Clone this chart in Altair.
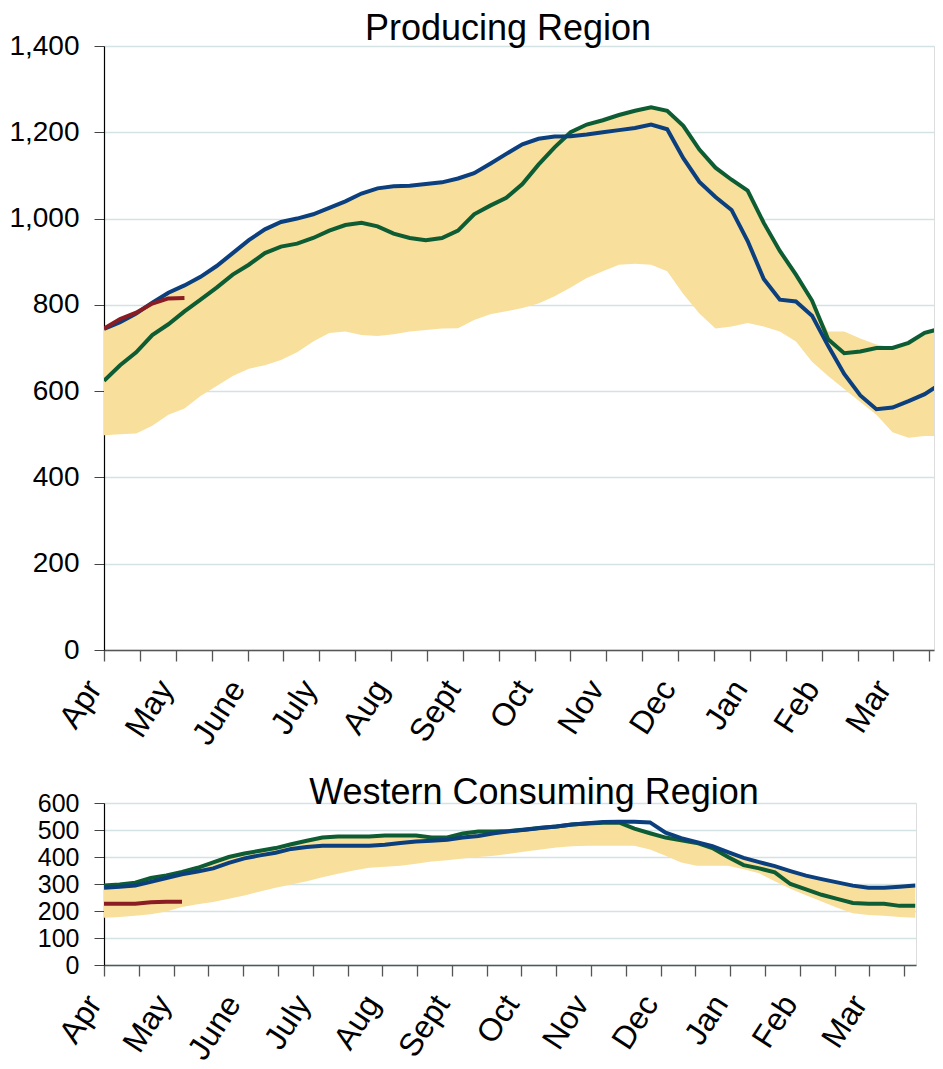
import altair as alt
import pandas as pd

weeks = list(range(53))

# ---------------- Producing Region (weekly readings) ----------------
prod_low = [498, 500, 502, 520, 545, 560, 589, 612, 635, 652, 660, 672, 690, 715, 735, 738, 730, 728, 732, 738,
            742, 745, 746, 765, 778, 785, 793, 803, 820, 840, 862, 878, 893, 895, 893, 878, 825, 780, 745, 750,
            758, 750, 738, 715, 668, 635, 605, 575, 545, 505, 492, 496, 496]
prod_high = [744, 760, 780, 805, 828, 845, 865, 890, 920, 950, 975, 992, 1000, 1010, 1025, 1040, 1058, 1070, 1075, 1076,
             1080, 1084, 1093, 1105, 1127, 1150, 1172, 1185, 1190, 1200, 1218, 1228, 1240, 1250, 1258, 1250, 1215, 1160, 1118, 1090,
             1065, 990, 925, 870, 810, 738, 738, 722, 708, 702, 712, 735, 745]
prod_blue = [744, 760, 780, 805, 828, 845, 865, 890, 920, 950, 975, 992, 1000, 1010, 1025, 1040, 1058, 1070, 1075, 1076,
             1080, 1084, 1093, 1105, 1127, 1150, 1172, 1185, 1190, 1191, 1195, 1200, 1205, 1210, 1218, 1207, 1140, 1085, 1050, 1020,
             948, 860, 812, 808, 775, 705, 640, 590, 558, 562, 577, 593, 617]
prod_green = [624, 660, 690, 730, 755, 785, 812, 840, 870, 893, 920, 935, 942, 955, 972, 985, 990, 982, 965, 955,
              950, 955, 972, 1010, 1030, 1048, 1080, 1125, 1165, 1200, 1218, 1228, 1240, 1250, 1258, 1250, 1215, 1160, 1118, 1090,
              1065, 990, 925, 870, 810, 720, 688, 692, 700, 700, 712, 735, 745]
prod_red = [745, 767, 782, 803, 815, 816]

# ---------------- Western Consuming Region (weekly readings) ----------------
west_low = [175, 178, 182, 188, 198, 215, 225, 233, 245, 257, 272, 286, 298, 310, 325, 338, 350, 360, 364, 368,
            375, 383, 388, 394, 400, 405, 412, 420, 428, 435, 440, 442, 442, 442, 442, 428, 405, 380, 368, 368,
            368, 355, 340, 310, 282, 258, 235, 212, 192, 185, 182, 178, 175]
west_high = [294, 298, 305, 322, 332, 345, 360, 380, 400, 413, 423, 433, 447, 460, 472, 476, 476, 476, 480, 480,
             480, 472, 472, 487, 494, 494, 496, 502, 508, 513, 520, 524, 527, 528, 505, 488, 472, 465, 455, 440,
             418, 397, 381, 366, 348, 331, 318, 306, 294, 286, 286, 290, 294]
west_blue = [286, 290, 294, 308, 322, 336, 346, 358, 378, 395, 406, 416, 430, 437, 442, 442, 442, 442, 445, 452,
             457, 460, 464, 472, 478, 488, 495, 501, 507, 513, 520, 525, 530, 531, 531, 528, 490, 470, 455, 440,
             418, 397, 381, 366, 348, 331, 318, 306, 294, 286, 286, 290, 294]
west_green = [294, 298, 305, 322, 332, 345, 360, 380, 400, 413, 423, 433, 447, 460, 472, 476, 476, 476, 480, 480,
              480, 472, 472, 487, 494, 494, 496, 502, 508, 513, 520, 524, 527, 528, 505, 488, 472, 462, 452, 433,
              400, 370, 358, 343, 300, 280, 260, 245, 230, 227, 227, 219, 219]
west_red = [227, 227, 227, 232, 234, 234]

months = ['Apr', 'May', 'June', 'July', 'Aug', 'Sept', 'Oct', 'Nov', 'Dec', 'Jan', 'Feb', 'Mar']
tick_step = 2.23
tick_vals = [round(i * tick_step, 3) for i in range(24)]
label_expr = ("(round(datum.value / %s) %% 2 == 0) ? %s[round(datum.value / %s) / 2] : ''"
              % (tick_step, str(months), tick_step))

BAND = '#f8df9b'
BLUE = '#0b3f7e'
GREEN = '#0d5c34'
RED = '#8a1c24'
FONT = 'Liberation Sans'


def panel(low, high, blue, green, red, title, ymax, ystep, width, height, xmax,
          title_dx, title_offset, ylab_size, x_extent):
    df = pd.DataFrame({'w': weeks, 'low': low, 'high': high, 'blue': blue, 'green': green})
    rdf = pd.DataFrame({'w': weeks[:len(red)], 'red': red})
    xs = alt.Scale(domain=[0, xmax], nice=False, zero=False)
    ys = alt.Scale(domain=[0, ymax], nice=False)
    x_axis = alt.Axis(values=tick_vals, labelExpr=label_expr, labelAngle=-57, labelAlign='right',
                      labelBaseline='middle', labelFontSize=32, labelFont=FONT, labelColor='black',
                      labelPadding=22, labelOffset=-10, tickSize=11, tickColor='#555', tickWidth=1.3,
                      domainColor='#555', domainWidth=1.5, grid=False, labelFlush=False,
                      labelOverlap=False, labelBound=False, minExtent=x_extent, maxExtent=x_extent,
                      title=None)
    y_axis = alt.Axis(values=list(range(0, ymax + 1, ystep)), format=',d', labelFontSize=ylab_size,
                      labelFont=FONT, labelColor='black', labelPadding=15, tickSize=10,
                      tickColor='#444', domainColor='black', domainWidth=1.2,
                      gridColor='#d3e3e3', gridWidth=1.3, labelFlush=False, labelOverlap=False,
                      labelBound=False, title=None)
    X = alt.X('w:Q', scale=xs, axis=x_axis)
    band = alt.Chart(df).mark_area(color=BAND, clip=True).encode(
        x=X, y=alt.Y('low:Q', scale=ys, axis=y_axis), y2='high:Q')
    g = alt.Chart(df).mark_line(color=GREEN, strokeWidth=4, clip=True).encode(
        x=X, y=alt.Y('green:Q', scale=ys, axis=y_axis))
    b = alt.Chart(df).mark_line(color=BLUE, strokeWidth=4, clip=True).encode(
        x=X, y=alt.Y('blue:Q', scale=ys, axis=y_axis))
    r = alt.Chart(rdf).mark_line(color=RED, strokeWidth=4, clip=True).encode(
        x=X, y=alt.Y('red:Q', scale=ys, axis=y_axis))
    return alt.layer(band, g, b, r).properties(
        width=width, height=height,
        title=alt.TitleParams(text=title, fontSize=36, font=FONT, fontWeight='normal', color='black',
                              anchor='middle', offset=title_offset, dx=title_dx))


top = panel(prod_low, prod_high, prod_blue, prod_green, prod_red, 'Producing Region',
            1400, 200, 830, 604, 51.58, -11, -16, 28, 113)
bottom = panel(west_low, west_high, west_blue, west_green, west_red, 'Western Consuming Region',
               600, 100, 812, 162, 52.05, 24, -21, 25, 100)

chart = alt.vconcat(top, bottom, spacing=10).properties(
    padding={'left': 0, 'top': 2, 'right': 0, 'bottom': 0}
).configure_view(stroke=None).configure(font=FONT).configure_axis(labelOverlap=False)

chart.save("out.html", embed_options={"renderer": "svg", "actions": False})
